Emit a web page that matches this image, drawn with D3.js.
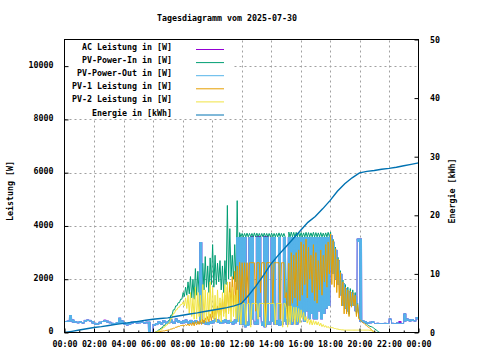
<!DOCTYPE html>
<html><head><meta charset="utf-8">
<script src="https://cdn.jsdelivr.net/npm/d3@7"></script>
<style>
body{margin:0;background:#fff}
svg{display:block}
text{font-family:"DejaVu Sans Mono",monospace;font-size:8.3px;font-weight:bold;fill:#000}
</style>
</head><body>
<svg id="chart" width="480" height="360"></svg>
<script>
// ---------- DATA ----------
const title = "Tagesdiagramm vom 2025-07-30";
const seriesNames = ["AC Leistung in [W]","PV-Power-In in [W]","PV-Power-Out in [W]","PV-1 Leistung in [W]","PV-2 Leistung in [W]","Energie in [kWh]"];
const seriesColors = ["#9400d3","#009e73","#56b4e9","#e69f00","#f0e442","#0072b2"];
const xTickLabels = ["00:00","02:00","04:00","06:00","08:00","10:00","12:00","14:00","16:00","18:00","20:00","22:00","00:00"];
const yTicks = [0,2000,4000,6000,8000,10000];
const y2Ticks = [0,10,20,30,40,50];

// 10-minute slots from 00:00 (max / min within each slot), W
const pvOutHi = [430,440,650,480,420,400, 420,390,470,480,470,420, 360,350,400,430,460,440, 400,360,350,380,550,450,
 380,350,370,400,420,380, 400,420,380,400,400,0, 320,350,420,380,460,400, 430,480,400,520,450,420,
 450,480,430,470,420,460, 400,3390,450,420,380,420, 450,520,480,430,460,500, 440,470,420,480,3580,3580,
 3580,3580,400,3580,3580,400, 3580,3580,400,3580,3580,400, 3580,3580,450,3580,400,3580, 500,3580,3580,3580,3580,3580,
 3580,3580,3580,3580,3580,3580, 3580,3580,3580,3580,3580,3580, 3650,3400,3100,2700,2200,1850, 1650,1550,1500,1450,1350,3520,
 3520,450,420,380,400,420, 350,360,340,350,360,350, 520,360,350,370,360,350, 710,520,480,500,460,580];
const pvOutLo = [400,400,420,380,370,350, 360,340,400,430,420,340, 300,300,330,400,400,380, 350,310,300,320,350,360,
 300,270,300,340,360,340, 350,370,340,350,0,0, 260,280,330,300,380,320, 350,380,320,400,360,340,
 350,380,330,350,340,360, 320,350,330,300,280,330, 350,400,360,320,350,380, 320,360,300,350,400,300,
 300,200,250,300,500,300, 300,600,250,200,300,300, 400,300,300,250,300,400, 300,400,300,500,300,400,
 600,400,800,500,700,500, 500,800,500,700,900,1000, 2400,2200,2000,1800,1400,1000, 900,800,1000,1000,800,3400,
 400,380,350,340,350,360, 330,320,320,330,330,320, 480,330,330,330,320,330, 420,440,420,430,420,500];
const acHi = [430,440,650,480,420,400, 420,390,470,480,470,420, 360,350,400,430,475,440, 400,360,350,380,550,450,
 380,350,370,400,420,380, 400,420,380,400,400,0, 320,350,420,380,460,400, 430,480,400,520,450,420,
 450,480,430,470,420,460, 400,3390,450,420,380,420, 450,520,480,430,460,500, 440,470,420,480,3580,3580,
 3580,3580,400,3580,3610,400, 3610,3610,400,3610,3610,400, 3580,3580,450,3580,400,3580, 500,3580,3580,3580,3580,3580,
 3580,3580,3580,3580,3580,3580, 3580,3580,3580,3580,3580,3580, 3650,3400,3100,2700,2200,1850, 1650,1550,1500,1450,1350,3520,
 3520,450,420,380,400,420, 350,360,340,350,360,350, 520,360,350,370,420,350, 710,520,480,500,460,580];
const acLo = [400,400,420,380,370,350, 360,340,400,430,420,340, 300,300,330,400,400,380, 350,310,300,320,350,360,
 300,270,300,340,360,340, 350,370,340,350,0,0, 260,280,330,300,380,320, 350,380,320,400,360,340,
 350,380,330,350,340,360, 320,350,330,300,280,330, 350,400,360,320,350,380, 320,360,300,350,400,300,
 300,200,250,300,500,300, 300,600,250,200,300,300, 400,300,300,250,300,400, 300,400,300,500,300,400,
 600,400,800,500,700,500, 500,800,500,700,900,1000, 2400,2200,2000,1800,1400,1000, 900,800,1000,1000,800,3400,
 400,380,350,340,350,360, 330,320,320,330,330,320, 480,330,330,330,320,330, 420,440,420,430,420,500];

// 10-minute slots from 06:00 to 21:20 (max / min within each slot), W
const pvInHi = [0,30,100,170,260,360, 450,650,850,1000,1120,1250, 1500,1700,1900,2100,2000,2400, 2300,2200,2600,2850,2500,2800,
 3300,2900,2600,2700,2500,2700, 4770,3900,2900,3300,4950,3750, 3720,3720,3730,3720,3720,3740, 3730,3720,3720,3730,3720,3720,
 3730,3720,3720,3740,3720,3720, 1200,3770,3770,3760,3760,3770, 3750,3740,3760,3750,3740,3760, 3750,3740,3750,3730,3740,3760,
 3770,3500,3200,2820,2320,1970, 1800,1700,1650,1600,1500,1100, 560,440,360,290,230,200, 130,60,0];
const pvInLo = [0,30,100,170,260,360, 450,650,850,1000,1120,1250, 1350,1400,1450,1300,1250,1400, 1500,1300,1600,1700,1500,1800,
 1700,1800,1900,1600,1500,1800, 2000,2100,2000,1900,2200,3590, 3590,3590,3590,3590,3590,3590, 3590,3590,3590,3590,3590,3590,
 3590,3590,3590,3590,3590,3590, 400,3590,3590,3590,3590,3590, 3590,3590,3590,3590,3590,3590, 3590,3590,3590,3590,3590,3590,
 2500,2300,2100,1850,1450,1050, 780,680,1000,1080,680,550, 480,400,330,260,220,170, 100,30,0];
const pv1Hi = [0,10,30,50,60,80, 100,130,160,200,230,260, 280,300,320,350,380,400, 420,450,500,550,600,700,
 800,900,1000,1100,1250,1400, 1700,1900,2100,2300,2500,2640, 2620,2620,2620,2620,2620,2620, 2620,2620,2620,2620,2620,2620,
 2620,2620,2620,2620,2620,2620, 1500,2600,3000,2900,3000,3100, 3400,3300,3500,3200,2900,3300, 3000,2700,3100,2900,3300,3400,
 3700,3450,3150,2750,2250,1900, 1700,1600,1550,1500,1400,1050, 480,380,300,220,150,60, 0,0,0];
const pv1Lo = [0,10,30,50,60,80, 100,130,160,200,230,260, 250,260,250,260,250,280, 300,300,350,380,400,450,
 500,550,600,650,700,750, 800,900,1000,1000,1100,1100, 1100,1300,1100,2620,2620,800, 2620,1500,2620,400,2620,2620,
 1100,2620,2620,500,2620,1300, 400,500,1100,1300,1000,1200, 1400,1800,1300,2000,1500,1200, 1100,1600,1400,1900,1700,2200,
 1800,1700,1500,1300,1000,700, 700,600,950,1000,600,500, 420,350,270,200,120,40, 0,0,0];
const pv2Hi = [0,20,70,120,200,280, 350,520,720,850,950,1050, 1150,1300,1400,1500,1300,1700, 1500,1400,1800,1600,1500,1900,
 1700,1400,1600,1300,1500,1800, 1900,1500,1700,1400,1600,1100, 1090,1090,1090,1090,1090,1090, 1090,1090,1090,1090,1090,1090,
 1090,1090,1090,1090,1090,1090, 900,1000,1000,950,950,900, 850,750,600,520,480,450, 420,400,350,300,260,230,
 210,180,150,130,110,100, 90,90,90,90,90,90, 90,90,90,90,80,40, 0,0,0];
const pv2Lo = [0,20,70,120,200,280, 350,520,720,850,950,1050, 1000,900,700,600,500,500, 600,400,500,400,500,600,
 500,400,500,400,600,500, 700,400,600,500,400,300, 1090,300,1090,200,1090,1090, 500,1090,1090,200,1090,1090,
 1090,300,1090,1090,200,1090, 200,300,400,300,400,350, 500,450,350,300,280,300, 280,250,220,200,180,160,
 180,150,130,110,100,90, 90,90,90,90,90,90, 90,90,90,90,80,40, 0,0,0];

// 30-minute steps from 00:00 to 24:00, kWh
const energy = [0,0.2,0.42,0.63,0.85,1.0,1.2,1.38,1.55,1.72,1.9,2.08,2.25,2.38,2.5,2.72,2.95,3.15,3.35,3.58,3.8,4.02,4.25,4.55,
 4.95,6.4,8.0,9.8,11.7,13.2,14.6,16.0,17.4,18.8,19.8,21.1,22.5,24.1,25.4,26.4,27.25,27.5,27.65,27.85,28.0,28.2,28.45,28.7,28.95];

// ---------- CHART ----------
const L = 64.5, R = 418.5, T = 39.5, B = 332.5;
const svg = d3.select("#chart");
svg.append("rect").attr("width",480).attr("height",360).attr("fill","#fff");

const x = d3.scaleLinear().domain([0, 1440]).range([L, R]);
const y = d3.scaleLinear().domain([0, 11000]).range([B, T]);
const y2 = d3.scaleLinear().domain([0, 50]).range([B, T]);

const grid = svg.append("g").attr("stroke", "#a0a0a0").attr("stroke-dasharray","2,3").attr("stroke-width",1);
d3.range(120, 1440, 120).forEach(t => grid.append("line").attr("x1", Math.round(x(t))+0.5).attr("x2", Math.round(x(t))+0.5).attr("y1", B).attr("y2", T));
yTicks.filter(v => v > 0).forEach(v => grid.append("line").attr("y1", Math.round(y(v))+0.5).attr("y2", Math.round(y(v))+0.5).attr("x1", L).attr("x2", R));

svg.append("clipPath").attr("id","clip").append("rect").attr("x",L).attr("y",T).attr("width",R-L).attr("height",B-T);
const plot = svg.append("g").attr("clip-path","url(#clip)");

// each 10-minute slot is drawn as n max/min swings (the samples inside the slot)
function zig(hi, lo, startMin, n) {
  const pts = [], w = 10 / (2*n);
  hi.forEach((h, i) => {
    const t = startMin + i*10;
    for (let k = 0; k < n; k++) { pts.push([t + (2*k+0.5)*w, h]); pts.push([t + (2*k+1.5)*w, lo[i]]); }
  });
  return pts;
}
const line = d3.line().x(d => x(d[0])).y(d => y(d[1]));
const draw = (pts, c) => plot.append("path").datum(pts).attr("d", line).attr("fill","none").attr("stroke",c).attr("stroke-width",1);

draw(zig(acHi, acLo, 0, 4), seriesColors[0]);
draw(zig(pvInHi, pvInLo, 360, 1), seriesColors[1]);
draw(zig(pvOutHi, pvOutLo, 0, 4), seriesColors[2]);
draw(zig(pv1Hi, pv1Lo, 360, 1), seriesColors[3]);
draw(zig(pv2Hi, pv2Lo, 360, 1), seriesColors[4]);
plot.append("path").datum(energy.map((v,i)=>[i*30, v]))
  .attr("d", d3.line().x(d => x(d[0])).y(d => y2(d[1])))
  .attr("fill","none").attr("stroke",seriesColors[5]).attr("stroke-width",1.4);

// legend (opaque key box)
const lg = svg.append("g");
lg.append("rect").attr("x",L+0.5).attr("y",T+0.5).attr("width",167).attr("height",78).attr("fill","#fff");
seriesNames.forEach((n,i) => {
  const cy = 47 + i*13.1;
  lg.append("text").attr("x",172).attr("y",cy+3).attr("text-anchor","end").text(n);
  lg.append("line").attr("x1",196).attr("x2",224).attr("y1",cy+2.5).attr("y2",cy+2.5).attr("stroke",seriesColors[i]).attr("stroke-width",1);
});

// axes
const gx = svg.append("g").attr("transform",`translate(0,${B})`)
  .call(d3.axisBottom(x).tickValues(d3.range(0,1441,120)).tickSize(-4).tickPadding(9).tickFormat((d,i)=>xTickLabels[i]));
const gxm = svg.append("g").attr("transform",`translate(0,${B})`)
  .call(d3.axisBottom(x).tickValues(d3.range(60,1440,120)).tickSize(-2).tickFormat(""));
const gy = svg.append("g").attr("transform",`translate(${L},0)`)
  .call(d3.axisLeft(y).tickValues(yTicks).tickSize(-4).tickPadding(11).tickFormat(d3.format("d")));
const gy2 = svg.append("g").attr("transform",`translate(${R},0)`)
  .call(d3.axisRight(y2).tickValues(y2Ticks).tickSize(-4).tickPadding(11.5).tickFormat(d3.format("d")));
[gx,gxm,gy,gy2].forEach(g => { g.select(".domain").remove(); g.selectAll("line").attr("stroke","#000"); g.selectAll("text").attr("font-family",null).attr("font-size",null).attr("fill","#000"); });
gy.selectAll("text").attr("dy","0.15em");
gy2.selectAll("text").attr("dy","0.3em");

svg.append("rect").attr("x",L).attr("y",T).attr("width",R-L).attr("height",B-T).attr("fill","none").attr("stroke","#000").attr("stroke-width",1);

svg.append("text").attr("x",227).attr("y",21).attr("text-anchor","middle").text(title);
svg.append("text").attr("transform","translate(13,191) rotate(-90)").attr("text-anchor","middle").text("Leistung [W]");
svg.append("text").attr("transform","translate(455,191) rotate(-90)").attr("text-anchor","middle").text("Energie [kWh]");
</script>
</body></html>
